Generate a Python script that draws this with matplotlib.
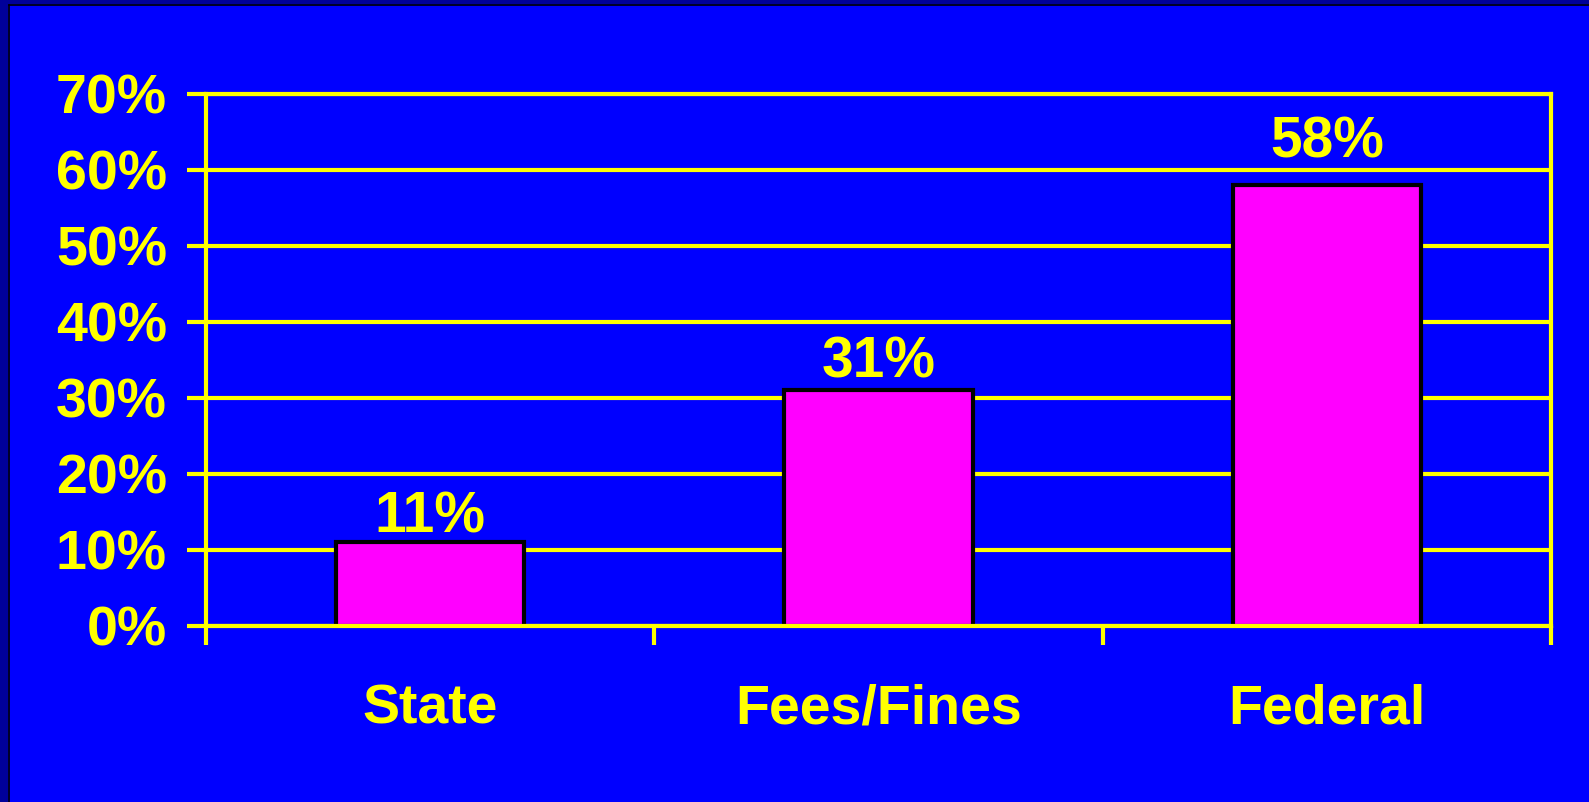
import matplotlib
matplotlib.use("Agg")
import matplotlib.pyplot as plt
from matplotlib.patches import Rectangle
import numpy as np

categories = ["State", "Fees/Fines", "Federal"]
values = [11, 31, 58]
value_labels = ["11%", "31%", "58%"]
y_ticks = [0, 10, 20, 30, 40, 50, 60, 70]
y_tick_labels = ["0%", "10%", "20%", "30%", "40%", "50%", "60%", "70%"]

# label offsets above each bar, in points (the 58% label sits higher in the original)
label_offsets = [7, 9, 20]

blue = "#0000FF"
yellow = "#FFFF00"
magenta = "#FF00FF"

plt.rcParams['font.family'] = ['Liberation Sans', 'DejaVu Sans']
plt.rcParams['font.weight'] = 'bold'

fig = plt.figure(figsize=(15.89, 8.02), dpi=100, facecolor=blue)

# dark frame strip on top and left side of the slide
fig.patches.append(Rectangle((0, 0), 8 / 1589, 1, transform=fig.transFigure,
                             facecolor="#00009A", edgecolor="none", zorder=0))
fig.patches.append(Rectangle((0, 1 - 4 / 802), 1, 4 / 802, transform=fig.transFigure,
                             facecolor="#00009A", edgecolor="none", zorder=0))
fig.add_artist(plt.Line2D([8.5 / 1589, 8.5 / 1589], [0, 1 - 4.5 / 802], transform=fig.transFigure,
                          color="black", lw=1.2))
fig.add_artist(plt.Line2D([8.5 / 1589, 1], [1 - 4.5 / 802, 1 - 4.5 / 802], transform=fig.transFigure,
                          color="black", lw=1.2))

ax = fig.add_axes([206 / 1589, 1 - 626 / 802, (1551 - 206) / 1589, (626 - 94) / 802])
ax.set_facecolor(blue)

x = np.arange(len(categories))
bars = ax.bar(x, values, width=0.42, color=magenta, edgecolor="black", linewidth=3, zorder=3)

ax.set_xlim(-0.5, len(categories) - 0.5)
ax.set_ylim(0, 70)
ax.set_yticks(y_ticks)
ax.set_yticklabels(y_tick_labels, fontsize=40, color=yellow, fontweight='bold')
ax.yaxis.grid(True, color=yellow, linewidth=3, zorder=1)
ax.set_axisbelow(True)

# ticks at category boundaries, labels placed separately
ax.set_xticks(np.arange(len(categories) + 1) - 0.5)
ax.set_xticklabels([])
ax.tick_params(axis='x', direction='out', length=14, width=3, color=yellow)
ax.tick_params(axis='y', direction='out', length=14, width=3, color=yellow, pad=14)

for side in ["left", "bottom", "right", "top"]:
    ax.spines[side].set_color(yellow)
    ax.spines[side].set_linewidth(3)
    ax.spines[side].set_zorder(4)

for xi, name in zip(x, categories):
    ax.text(xi, -12.8, name, ha='center', va='baseline', fontsize=40, color=yellow,
            fontweight='bold', clip_on=False)

for rect, lab, off in zip(bars, value_labels, label_offsets):
    ax.annotate(lab, (rect.get_x() + rect.get_width() / 2, rect.get_height()),
                xytext=(0, off), textcoords='offset points', ha='center', va='baseline',
                fontsize=41, color=yellow, fontweight='bold')

fig.savefig("out.png", dpi=100, facecolor=blue)
